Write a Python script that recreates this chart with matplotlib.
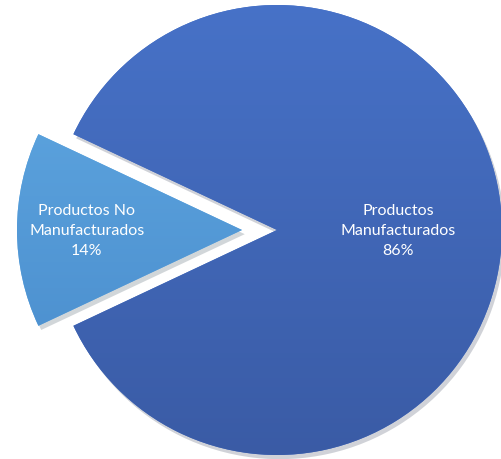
import numpy as np
import matplotlib
matplotlib.use("Agg")
import matplotlib.pyplot as plt
import matplotlib.patheffects as pe
from matplotlib.colors import LinearSegmentedColormap

# datos del gráfico
categorias = ["Productos No\nManufacturados", "Productos\nManufacturados"]
valores = [14, 86]
colores_arriba = ["#62ABE4", "#4772C8"]
colores_abajo = ["#4688C9", "#3A5BA5"]

plt.rcParams['font.family'] = ['Lato', 'DejaVu Sans']

fig = plt.figure(figsize=(5.02, 4.60), dpi=100)
ax = fig.add_axes([0, 0, 1, 1])

centro = (277, 229)
radio = 225
# desplazamiento (en unidades de datos) de la porción separada
separacion = [35, 0]
dist_etiqueta = [0.69, 0.54]

inicio = 180 - valores[0] * 3.6 / 2
wedges, _ = ax.pie(valores, explode=separacion, startangle=inicio,
                   counterclock=True, center=centro, radius=radio,
                   colors=colores_arriba, frame=True,
                   wedgeprops=dict(linewidth=0))
ax.set_xlim(0, 502)
ax.set_ylim(0, 460)
ax.set_aspect('equal')
ax.axis('off')

grad = np.linspace(1, 0, 256).reshape(-1, 1)
for i, w in enumerate(wedges):
    w.set_path_effects([pe.SimplePatchShadow(offset=(2, -3), alpha=0.2),
                        pe.Normal()])
    cmap = LinearSegmentedColormap.from_list("g", [colores_abajo[i], colores_arriba[i]])
    im = ax.imshow(grad, cmap=cmap, extent=(0, 502, 0, 460),
                   aspect='auto', origin='upper', zorder=w.get_zorder() + 0.1)
    im.set_clip_path(w)
    # etiqueta en el centro angular de la cuña
    ang = np.deg2rad((w.theta1 + w.theta2) / 2)
    cx, cy = w.center
    tx = cx + dist_etiqueta[i] * radio * np.cos(ang)
    ty = cy + dist_etiqueta[i] * radio * np.sin(ang)
    lab = categorias[i] + "\n" + f"{valores[i]}%"
    ax.text(tx, ty, lab, ha='center', va='center', color='white',
            fontsize=11.5, linespacing=1.55, zorder=10)

ax.set_xlim(0, 502)
ax.set_ylim(0, 460)
fig.savefig("out.png", dpi=100, facecolor='white')
